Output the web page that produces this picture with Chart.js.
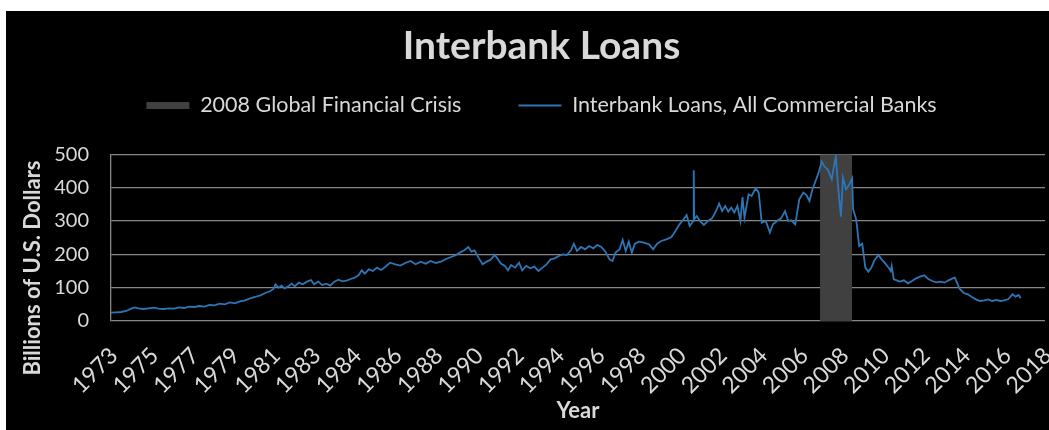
<!DOCTYPE html>
<html>
<head>
<meta charset="utf-8">
<script src="https://cdn.jsdelivr.net/npm/chart.js@4.4.0/dist/chart.umd.min.js"></script>
<style>
  html, body { margin: 0; padding: 0; background: #ffffff; width: 1049px; height: 430px; overflow: hidden; }
  #frame { position: absolute; left: 6px; top: 11px; width: 1043px; height: 419px; background: #000000; overflow: hidden; }
  #c { position: absolute; left: 0; top: 0; }
</style>
</head>
<body>
<div id="frame"><canvas id="c" width="1071" height="419"></canvas></div>
<script>
// ---------- data ----------
const xMin = 1973, xMax = 2019;
const tickLabels = ['1973','1975','1977','1979','1981','1983','1984','1986','1988','1990','1992','1994',
                    '1996','1998','2000','2002','2004','2006','2008','2010','2012','2014','2016','2018'];
const yTicks = [0, 100, 200, 300, 400, 500];
const crisisYears = [2007.92, 2009.5];
const crisisLevels = [0, 500];

const dates = [
  1973.00,1973.25,1973.50,1973.75,1974.00,1974.15,1974.35,1974.60,1974.85,1975.10,1975.35,1975.60,1975.85,
  1976.10,1976.35,1976.60,1976.85,1977.10,1977.35,1977.60,1977.85,1978.10,1978.35,1978.60,1978.85,
  1979.10,1979.35,1979.60,1979.85,1980.10,1980.35,1980.60,1980.85,1981.00,1981.10,1981.25,1981.40,1981.55,
  1981.75,1981.90,1982.05,1982.25,1982.45,1982.65,1982.85,1983.00,1983.20,1983.40,1983.60,1983.80,
  1984.00,1984.20,1984.40,1984.60,1984.80,1985.00,1985.20,1985.35,1985.50,1985.70,1985.90,
  1986.10,1986.30,1986.50,1986.75,1987.00,1987.25,1987.50,1987.75,1988.00,1988.25,1988.50,1988.75,
  1989.00,1989.25,1989.50,1989.75,1990.00,1990.20,1990.40,1990.60,1990.75,1990.90,
  1991.10,1991.30,1991.50,1991.70,1991.90,1992.05,1992.20,1992.40,1992.55,1992.70,1992.90,
  1993.10,1993.25,1993.45,1993.65,1993.85,1994.05,1994.25,1994.45,1994.65,1994.85,
  1995.05,1995.25,1995.45,1995.65,1995.80,1995.95,1996.15,1996.35,1996.55,1996.75,1996.95,
  1997.15,1997.35,1997.55,1997.70,1997.85,1998.05,1998.20,1998.35,1998.50,1998.65,1998.80,
  1999.00,1999.25,1999.50,1999.70,1999.90,2000.10,2000.35,2000.60,2000.80,
  2001.00,2001.20,2001.35,2001.50,2001.68,2001.70,2001.72,2001.85,2002.00,2002.20,2002.40,2002.60,2002.80,2002.95,
  2003.10,2003.25,2003.40,2003.55,2003.70,2003.85,2004.00,2004.10,2004.20,2004.40,2004.55,2004.75,2004.90,
  2005.05,2005.25,2005.45,2005.60,2005.80,2006.00,2006.20,2006.35,2006.50,2006.70,2006.90,
  2007.10,2007.25,2007.40,2007.55,2007.70,2007.85,2008.00,2008.15,2008.30,2008.50,2008.65,2008.70,2008.80,2008.95,
  2009.05,2009.20,2009.35,2009.50,2009.55,2009.70,2009.85,2010.00,2010.15,2010.30,2010.45,2010.60,2010.80,2010.95,
  2011.10,2011.30,2011.40,2011.45,2011.55,2011.70,2011.85,2012.05,2012.25,2012.45,2012.65,2012.85,
  2013.05,2013.25,2013.45,2013.65,2013.85,2014.05,2014.25,2014.45,2014.56,2014.80,
  2015.00,2015.20,2015.40,2015.60,2015.80,2016.00,2016.20,2016.40,2016.60,2016.80,
  2017.00,2017.20,2017.40,2017.55,2017.70,2017.80
];
const loans = [
  25,26,27,30,37,41,38,36,38,40,37,36,38,
  37,41,39,43,42,45,43,48,47,52,50,56,
  53,59,62,68,72,77,84,90,96,110,100,106,98,
  105,112,104,115,110,118,123,110,118,108,112,106,
  118,124,119,121,126,130,138,152,142,155,150,
  160,153,162,175,170,166,174,180,170,178,172,180,
  174,178,186,192,198,206,212,222,208,212,
  190,170,178,184,198,186,172,165,152,168,160,
  175,152,165,158,163,150,160,170,185,188,
  195,200,198,212,232,210,222,215,225,218,228,
  222,208,185,180,205,215,243,210,238,205,232,
  238,235,230,215,232,240,245,252,270,
  290,305,318,285,300,452,305,315,300,288,300,308,330,352,
  330,345,328,340,325,345,300,372,310,380,375,398,385,
  295,300,265,290,300,308,330,300,302,290,365,
  385,378,360,395,420,445,478,462,455,425,480,493,410,313,
  430,395,408,428,335,305,225,232,160,148,160,182,198,185,
  175,160,150,165,125,122,118,122,113,120,128,133,
  137,126,120,116,118,115,122,128,130,96,
  84,80,72,65,60,62,65,60,63,60,
  62,66,80,73,78,68
];

// ---------- styling ----------
const TXT = '#d9d9d9';
const GRID = '#868686';
const BLUE = '#2e75b6';
const CRISIS = '#404040';
const FONT = 'Lato';

const yTitlePlugin = {
  id: 'yTitle',
  afterDraw(chart) {
    const ctx = chart.ctx;
    ctx.save();
    ctx.translate(27, 257);
    ctx.rotate(-Math.PI / 2);
    ctx.font = 'bold 22px ' + FONT;
    ctx.fillStyle = TXT;
    ctx.textAlign = 'center';
    ctx.textBaseline = 'middle';
    ctx.fillText('Billions of U.S. Dollars', 0, 0);
    ctx.restore();
  }
};

new Chart(document.getElementById('c'), {
  type: 'line',
  data: {
    datasets: [
      {
        label: '2008 Global Financial Crisis',
        data: [
          { x: crisisYears[0], y: crisisLevels[0] },
          { x: crisisYears[0], y: crisisLevels[1] },
          { x: crisisYears[1], y: crisisLevels[1] },
          { x: crisisYears[1], y: crisisLevels[0] }
        ],
        fill: 'origin',
        backgroundColor: CRISIS,
        borderColor: CRISIS,
        borderWidth: 0,
        pointRadius: 0,
        pointStyle: 'rect',
        order: 2
      },
      {
        label: 'Interbank Loans, All Commercial Banks',
        data: dates.map((d, i) => ({ x: d, y: loans[i] })),
        fill: false,
        borderColor: BLUE,
        backgroundColor: BLUE,
        borderWidth: 1.8,
        pointRadius: 0,
        pointStyle: 'line',
        tension: 0,
        order: 1
      }
    ]
  },
  options: {
    responsive: false,
    animation: false,
    events: [],
    layout: { padding: 0 },
    plugins: {
      title: {
        display: true,
        text: 'Interbank Loans',
        color: TXT,
        font: { family: FONT, size: 39, weight: 'bold', lineHeight: 1.2 },
        padding: { top: 12, bottom: -32 }
      },
      legend: {
        display: true,
        position: 'top',
        labels: {
          color: TXT,
          font: { family: FONT, size: 21.5 },
          usePointStyle: true,
          pointStyleWidth: 43,
          boxHeight: 7,
          padding: 57,
          sort: (a, b) => a.datasetIndex - b.datasetIndex,
          generateLabels(chart) {
            const items = Chart.defaults.plugins.legend.labels.generateLabels(chart);
            items.forEach(it => {
              if (it.datasetIndex === 1) { it.lineWidth = 2; it.strokeStyle = BLUE; it.pointStyle = 'line'; }
              else { it.lineWidth = 0; it.fillStyle = CRISIS; it.pointStyle = 'rect'; }
            });
            return items;
          }
        }
      },
      tooltip: { enabled: false }
    },
    scales: {
      x: {
        type: 'linear',
        position: 'bottom',
        min: xMin,
        max: xMax,
        grid: { display: false },
        border: { display: false },
        afterBuildTicks(s) {
          const n = tickLabels.length;
          s.ticks = tickLabels.map((t, i) => ({ value: xMin + i * (xMax - xMin) / (n - 1) }));
        },
        ticks: {
          color: TXT,
          font: { family: FONT, size: 23 },
          autoSkip: false,
          minRotation: 45,
          maxRotation: 45,
          padding: 13,
          labelOffset: 3,
          callback: (v, i) => tickLabels[i]
        },
        title: {
          display: true,
          text: 'Year',
          color: TXT,
          font: { family: FONT, size: 22, weight: 'bold' },
          padding: { top: 0, bottom: 6 }
        },
        afterFit(s) { s.height = 109; s.paddingLeft = 0; s.paddingRight = 0; }
      },
      xTop: {
        type: 'linear',
        position: 'top',
        display: true,
        grid: { display: false },
        border: { display: false },
        ticks: { display: false },
        afterFit(s) { s.height = 28; }
      },
      y: {
        type: 'linear',
        position: 'left',
        min: 0,
        max: 500,
        afterBuildTicks(s) { s.ticks = yTicks.map(v => ({ value: v })); },
        grid: { color: GRID, lineWidth: 1.3, drawTicks: false },
        border: { display: true, color: GRID, width: 1.3 },
        ticks: { color: TXT, font: { family: FONT, size: 20 }, padding: 22 },
        afterFit(s) { s.width = 105; }
      },
      yRight: {
        type: 'linear',
        position: 'right',
        display: true,
        grid: { display: false },
        border: { display: false },
        ticks: { display: false },
        afterFit(s) { s.width = 32; }
      }
    }
  },
  plugins: [yTitlePlugin]
});
</script>
</body>
</html>
